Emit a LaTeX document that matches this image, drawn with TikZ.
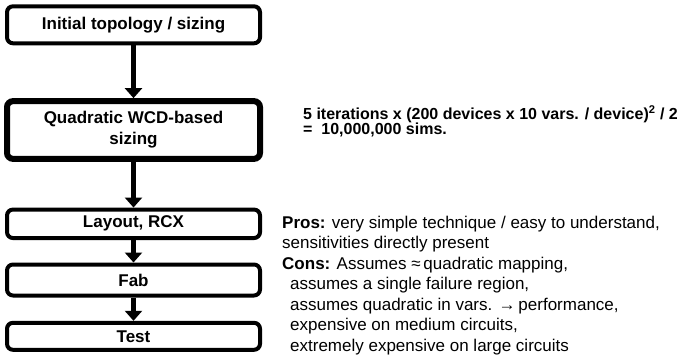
\documentclass[tikz,border=0pt]{standalone}
\usepackage{fontspec}
\setmainfont{Liberation Sans}
\usetikzlibrary{arrows.meta}
\begin{document}
\begin{tikzpicture}[x=1pt,y=-1pt,
  flowbox/.style={draw=black, line width=4pt, rounded corners=6pt, fill=white,
    minimum width=253pt, align=center, font=\fontsize{17}{21}\selectfont\bfseries, inner sep=0pt},
  flowarrow/.style={line width=5.5pt, -{Triangle[width=17pt,length=10pt]}},
  note/.style={anchor=north west, align=left, inner sep=0pt}]
\useasboundingbox (0,0) rectangle (687,361);
\node[flowbox, minimum height=37pt] (b1) at (133.5,24.8) {Initial topology / sizing};
\node[flowbox, line width=6pt, minimum height=57.7pt] (b2) at (133.5,130) {Quadratic WCD-based\\sizing};
\node[flowbox, minimum height=28.5pt] (b3) at (133.5,223.8) {Layout, RCX};
\node[flowbox, minimum height=31pt] (b4) at (133.5,280) {Fab};
\node[flowbox, minimum height=27pt] (b5) at (133.5,336.3) {Test};
\draw[flowarrow] (b1.south) -- (b2.north);
\draw[flowarrow] (b2.south) -- (b3.north);
\draw[flowarrow] (b3.south) -- (b4.north);
\draw[flowarrow] (b4.south) -- (b5.north);
\node[note, font=\fontsize{16}{15.5}\selectfont\bfseries] (wcd) at (303,105)
  {5 iterations x (200 devices x 10 vars. / device)\textsuperscript{2} / 2\\
   =\ \ 10,000,000 sims.};
\node[note, font=\fontsize{17}{20.5}\selectfont] (pc) at (282,215.6)
  {\textbf{Pros:} very simple technique / easy to understand,\\
   sensitivities directly present\\
   \textbf{Cons:} Assumes ≈\,quadratic mapping,\\
   \hspace*{8pt}assumes a single failure region,\\
   \hspace*{8pt}assumes quadratic in vars. →\,performance,\\
   \hspace*{8pt}expensive on medium circuits,\\
   \hspace*{8pt}extremely expensive on large circuits};
\end{tikzpicture}
\end{document}
